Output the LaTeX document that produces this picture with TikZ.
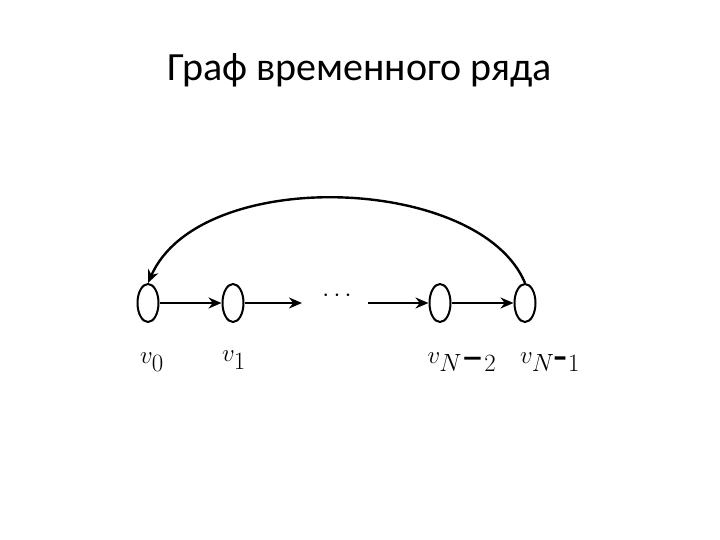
\documentclass[tikz,border=0pt]{standalone}
\usepackage{fontspec}
\setmainfont{Carlito}
\usetikzlibrary{arrows.meta,shapes.geometric}
\begin{document}
\begin{tikzpicture}[x=1pt,y=-1pt,
  vert/.style={draw,line width=2pt,ellipse,minimum width=21pt,minimum height=38pt,inner sep=0pt,fill=white},
  arr/.style={-{Stealth[length=13pt,width=11pt]},line width=2.4pt},
  lab/.style={font=\fontsize{46}{46}\selectfont}]
\useasboundingbox (0,0) rectangle (720,540);
\node[font=\fontsize{40}{44}\selectfont] (t) at (360,70) {Граф временного ряда};
\node[vert] (a) at (148,303) {};
\node[vert] (b) at (233,303) {};
\node[vert] (c) at (440,303) {};
\node[vert] (d) at (525,303) {};
\node[font=\fontsize{34}{34}\selectfont] (dots) at (337,296) {$\cdots$};
\coordinate (m1) at (302,303);
\coordinate (m2) at (368,303);
\draw[arr] (a) -- (b);
\draw[arr] (b) -- (m1);
\draw[arr] (m2) -- (c);
\draw[arr] (c) -- (d);
\draw[arr] (d.north) .. controls (480,175) and (200,165) .. (a.north);
\node[lab] (la) at (152,362) {$v_0$};
\node[lab] (lb) at (234,360) {$v_1$};
\node[lab] (lc) at (462,362) {$v_{N\mbox{--}2}$};
\node[lab] (ld) at (550,362) {$v_{N\mbox{-}1}$};
\end{tikzpicture}
\end{document}
